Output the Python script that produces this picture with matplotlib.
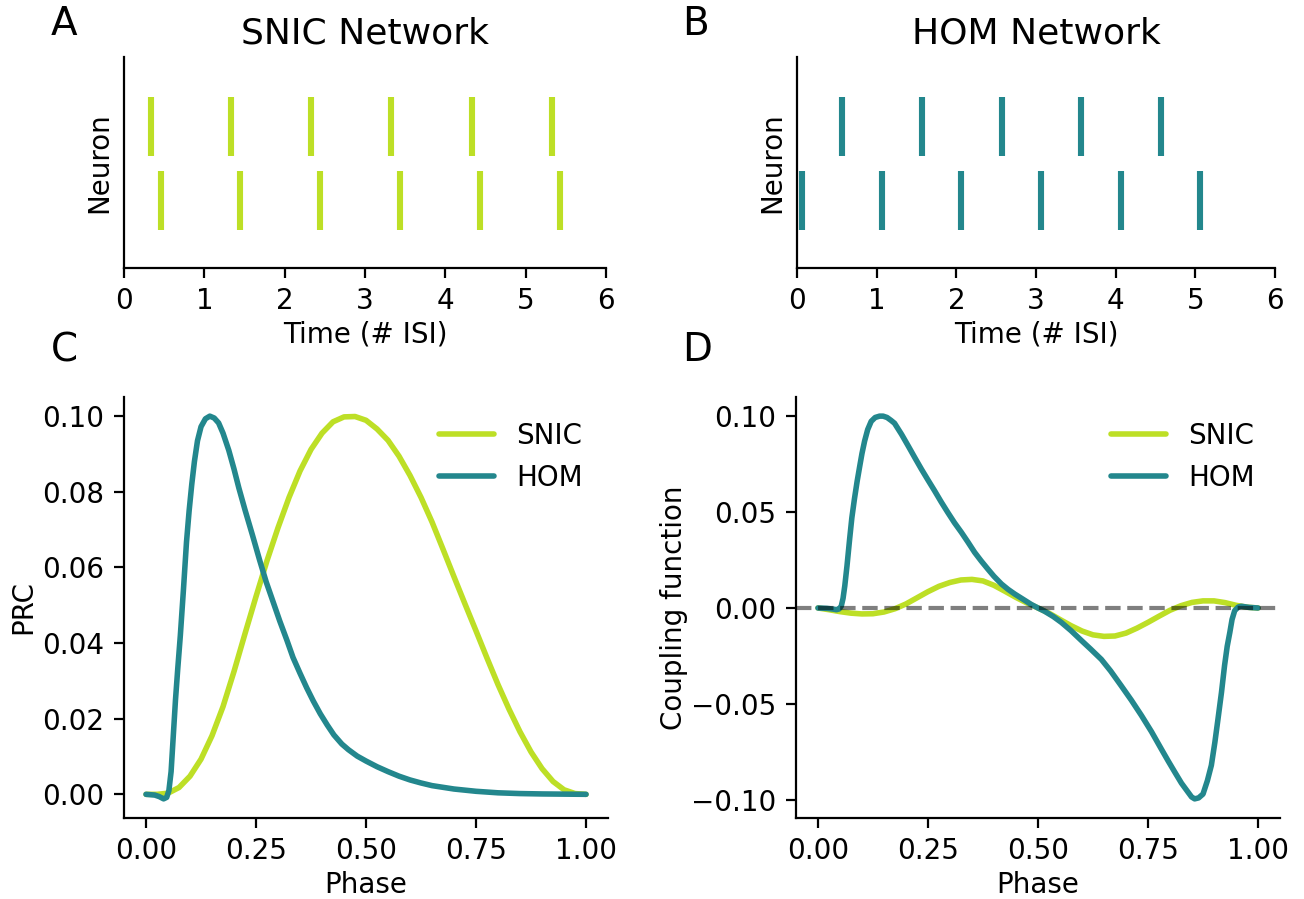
import numpy as np
import matplotlib
matplotlib.use("Agg")
import matplotlib.pyplot as plt

# colours
snic_col = '#bddf26'
hom_col = '#23878d'

# spike times (in # ISI), two neurons per network
snic_top = [0.335, 1.33, 2.33, 3.33, 4.33, 5.33]
snic_bottom = [0.455, 1.45, 2.44, 3.44, 4.43, 5.43]
hom_top = [0.568, 1.568, 2.568, 3.568, 4.568]
hom_bottom = [0.0625, 1.0625, 2.0625, 3.0625, 4.0625, 5.0625]

# phase response curves
prc_snic_phase = [0, 0.025, 0.05, 0.075, 0.1, 0.125, 0.15, 0.175, 0.2, 0.225, 0.25, 0.275, 0.3, 0.325,
                  0.35, 0.375, 0.4, 0.425, 0.45, 0.475, 0.5, 0.525, 0.55, 0.575, 0.6, 0.625, 0.65, 0.675,
                  0.7, 0.725, 0.75, 0.775, 0.8, 0.825, 0.85, 0.875, 0.9, 0.925, 0.95, 0.975, 1.0]
prc_snic = [0, 0, 0.0003, 0.0018, 0.0048, 0.0093, 0.0155, 0.0232, 0.0325, 0.0425, 0.0523, 0.0618, 0.0705,
            0.0785, 0.0855, 0.0912, 0.0955, 0.0985, 0.0998, 0.0999, 0.0989, 0.0966, 0.0936, 0.0894, 0.0843,
            0.0785, 0.0720, 0.0648, 0.0575, 0.0503, 0.0432, 0.0360, 0.0290, 0.0225, 0.0165, 0.0112, 0.0068,
            0.0034, 0.0012, 0.0002, 0]

prc_hom_phase = [0, 0.02, 0.03, 0.04, 0.047, 0.052, 0.057, 0.062, 0.067, 0.072, 0.078, 0.085, 0.092, 0.098,
                 0.104, 0.11, 0.117, 0.125, 0.135, 0.145, 0.155, 0.165, 0.175, 0.188, 0.2, 0.211, 0.225,
                 0.242, 0.258, 0.273, 0.29, 0.304, 0.32, 0.334, 0.35, 0.365, 0.38, 0.396, 0.412, 0.427,
                 0.445, 0.46, 0.48, 0.5, 0.525, 0.55, 0.575, 0.6, 0.625, 0.65, 0.7, 0.75, 0.8, 0.85, 0.9, 1.0]
prc_hom = [0, -0.0002, -0.0006, -0.0012, -0.0008, 0.001, 0.006, 0.0155, 0.025, 0.033, 0.042, 0.054, 0.0667,
           0.075, 0.082, 0.088, 0.0935, 0.0972, 0.0993, 0.100, 0.0995, 0.0982, 0.0955, 0.091, 0.086, 0.081,
           0.0752, 0.0685, 0.062, 0.0562, 0.0505, 0.0458, 0.0408, 0.0362, 0.032, 0.0282, 0.0247, 0.0213,
           0.0183, 0.0157, 0.0133, 0.0118, 0.0101, 0.0088, 0.0073, 0.0060, 0.0048, 0.0038, 0.0030, 0.0023,
           0.0014, 0.0008, 0.0004, 0.0002, 0.0001, 0]

# coupling functions
h_snic_phase = [0, 0.025, 0.05, 0.075, 0.1, 0.125, 0.15, 0.175, 0.2, 0.225, 0.25, 0.275, 0.3, 0.325,
                0.35, 0.375, 0.4, 0.425, 0.45, 0.475, 0.5, 0.525, 0.55, 0.575, 0.6, 0.625, 0.65, 0.675,
                0.7, 0.725, 0.75, 0.775, 0.8, 0.825, 0.85, 0.875, 0.9, 0.925, 0.95, 0.975, 1.0]
h_snic = [0, -0.0009, -0.0019, -0.0027, -0.0031, -0.0030, -0.0021, -0.0004, 0.0021, 0.0053, 0.0085, 0.0113,
          0.0133, 0.0146, 0.0149, 0.0141, 0.0118, 0.0087, 0.0055, 0.0026, 0, -0.0027, -0.0060, -0.0092,
          -0.0120, -0.0140, -0.0148, -0.0146, -0.0131, -0.0105, -0.0075, -0.0043, -0.0012, 0.0012, 0.0029,
          0.0037, 0.0037, 0.0028, 0.0014, 0.0004, 0]

h_hom_phase = [0, 0.02, 0.035, 0.042, 0.048, 0.053, 0.057, 0.061, 0.066, 0.072, 0.077, 0.083, 0.089, 0.095,
               0.1, 0.106, 0.113, 0.121, 0.13, 0.14, 0.148, 0.157, 0.166, 0.174, 0.19, 0.205, 0.22, 0.235,
               0.25, 0.265, 0.28, 0.295, 0.31, 0.326, 0.341, 0.356, 0.371, 0.386, 0.4, 0.417, 0.432, 0.447,
               0.465, 0.485, 0.5, 0.515, 0.535, 0.553, 0.575, 0.598, 0.62, 0.644, 0.665, 0.689, 0.712, 0.735,
               0.758, 0.78, 0.796, 0.811, 0.826, 0.841, 0.849, 0.856, 0.865, 0.875, 0.885, 0.894, 0.902,
               0.909, 0.917, 0.924, 0.93, 0.936, 0.941, 0.947, 0.955, 0.962, 0.98, 1.0]
h_hom = [0, -0.0002, -0.0006, -0.0009, -0.0005, 0.001, 0.005, 0.0116, 0.022, 0.036, 0.047, 0.057, 0.066, 0.074,
         0.0805, 0.087, 0.093, 0.0973, 0.0993, 0.1, 0.1, 0.0993, 0.0978, 0.0963, 0.0905, 0.0845, 0.0784, 0.0724,
         0.0667, 0.0611, 0.0553, 0.0498, 0.0445, 0.0394, 0.0343, 0.029, 0.0245, 0.0203, 0.0165, 0.0125, 0.0097,
         0.0073, 0.0047, 0.0018, 0, -0.0017, -0.0045, -0.0075, -0.0118, -0.0168, -0.0215, -0.0268, -0.0328,
         -0.0405, -0.048, -0.056, -0.0645, -0.0734, -0.0798, -0.0856, -0.0913, -0.096, -0.0985, -0.0995,
         -0.099, -0.097, -0.09, -0.082, -0.07, -0.058, -0.044, -0.030, -0.02, -0.0127, -0.006, -0.0014,
         0.0005, 0.0009, 0.0003, 0]

plt.rcParams['font.family'] = 'DejaVu Sans'
plt.rcParams['font.size'] = 10

fig = plt.figure(figsize=(6.52, 4.495), dpi=200)

axA = fig.add_axes([0.0951, 0.7019, 0.3696, 0.2347])
axB = fig.add_axes([0.6112, 0.7019, 0.3666, 0.2347])
axC = fig.add_axes([0.0951, 0.0901, 0.3712, 0.4683])
axD = fig.add_axes([0.6104, 0.0901, 0.3712, 0.4683])


def raster(ax, bottom, top, col, title):
	ax.eventplot([bottom, top], lineoffsets=[0, 1], linelengths=0.8, linewidths=2.2, colors=col)
	ax.set_xlim(0, 6)
	ax.set_ylim(-0.92, 1.94)
	ax.set_yticks([])
	ax.set_xticks(range(7))
	ax.set_xlabel('Time (# ISI)', labelpad=2)
	ax.set_ylabel('Neuron')
	ax.set_title(title, fontsize=13, pad=5)


raster(axA, snic_bottom, snic_top, snic_col, 'SNIC Network')
raster(axB, hom_bottom, hom_top, hom_col, 'HOM Network')

line_kw = dict(lw=2, solid_joinstyle='round', solid_capstyle='round')

axC.plot(prc_snic_phase, prc_snic, color=snic_col, label='SNIC', **line_kw)
axC.plot(prc_hom_phase, prc_hom, color=hom_col, label='HOM', **line_kw)
axC.set_xticks([0, 0.25, 0.5, 0.75, 1.0])
axC.set_yticks([0, 0.02, 0.04, 0.06, 0.08, 0.10])
axC.set_xlabel('Phase', labelpad=2)
axC.set_ylabel('PRC', labelpad=2)
axC.legend(loc='upper right', frameon=False)

axD.plot(h_snic_phase, h_snic, color=snic_col, label='SNIC', **line_kw)
axD.plot(h_hom_phase, h_hom, color=hom_col, label='HOM', **line_kw)
axD.axhline(0, color='k', ls='--', lw=1.5, alpha=0.5)
axD.set_xticks([0, 0.25, 0.5, 0.75, 1.0])
axD.set_yticks([-0.10, -0.05, 0, 0.05, 0.10])
axD.set_xlabel('Phase', labelpad=2)
axD.set_ylabel('Coupling function', labelpad=1)
axD.legend(loc='upper right', frameon=False)

for ax in [axA, axB, axC, axD]:
	ax.spines['top'].set_visible(False)
	ax.spines['right'].set_visible(False)

fig.text(64 / 1304, 1 - 24 / 899, 'A', fontsize=14, ha='center', va='center')
fig.text(696 / 1304, 1 - 24 / 899, 'B', fontsize=14, ha='center', va='center')
fig.text(64 / 1304, 1 - 350 / 899, 'C', fontsize=14, ha='center', va='center')
fig.text(697 / 1304, 1 - 350 / 899, 'D', fontsize=14, ha='center', va='center')

fig.savefig('out.png', dpi=200)
